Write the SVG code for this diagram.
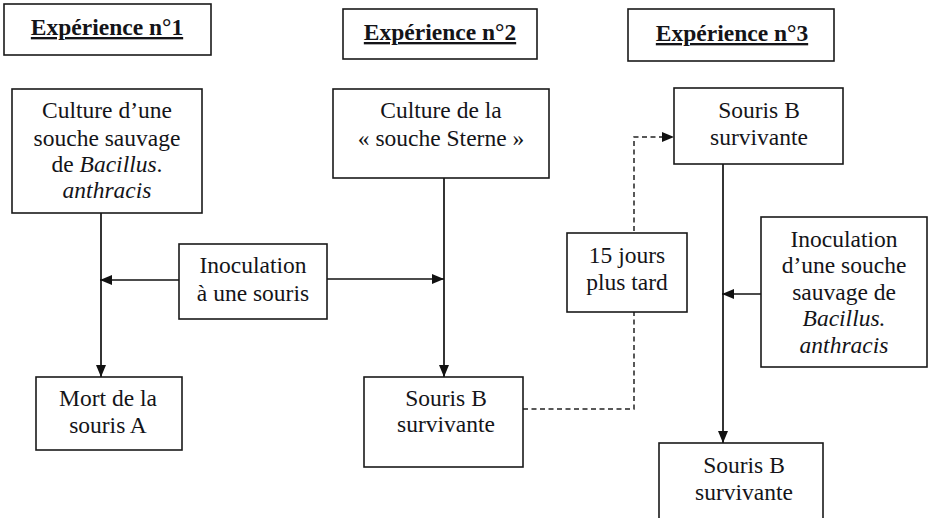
<svg xmlns="http://www.w3.org/2000/svg" width="929" height="518" viewBox="0 0 929 518">
  <style>
    .box { fill: #fff; stroke: #1a1a1a; stroke-width: 1.6; }
    .t { font-family: "Liberation Serif", "Times New Roman", serif; font-size: 23.5px; fill: #141418; text-anchor: middle; }
    .h { font-weight: bold; text-decoration: underline; }
    .i { font-style: italic; }
    .link { fill: none; stroke: #111; stroke-width: 1.7; }
    .dash { fill: none; stroke: #222; stroke-width: 1.5; stroke-dasharray: 5 3.5; }
  </style>
  <defs>
    <marker id="arrow" viewBox="0 0 12 10" refX="12" refY="5" markerWidth="12" markerHeight="10" markerUnits="userSpaceOnUse" orient="auto">
      <path d="M0,0 L12,5 L0,10 z" fill="#111"/>
    </marker>
  </defs>
  <rect width="929" height="518" fill="#fff"/>

  <!-- connectors -->
  <g id="connectors">
    <line class="link" x1="101" y1="213" x2="101" y2="377" marker-end="url(#arrow)"/>
    <line class="link" x1="179" y1="280" x2="100" y2="280" marker-end="url(#arrow)"/>
    <line class="link" x1="444" y1="178" x2="444" y2="377" marker-end="url(#arrow)"/>
    <line class="link" x1="327" y1="279" x2="444" y2="279" marker-end="url(#arrow)"/>
    <line class="link" x1="723" y1="164" x2="723" y2="443" marker-end="url(#arrow)"/>
    <line class="link" x1="761" y1="294" x2="722" y2="294" marker-end="url(#arrow)"/>
    <!-- dashed link: souris B (exp 2) to souris B (exp 3), 15 days later -->
    <path class="dash" d="M523,409 H634 V137 H662"/>
    <line x1="662" y1="137" x2="674" y2="137" stroke="none" marker-end="url(#arrow)"/>
  </g>

  <!-- headers -->
  <g id="exp1">
    <rect class="box" x="4" y="4" width="207" height="51"/>
    <text class="t h" x="107" y="35">Expérience n°1</text>
  </g>
  <g id="exp2">
    <rect class="box" x="343" y="9" width="194" height="50"/>
    <text class="t h" x="440" y="40">Expérience n°2</text>
  </g>
  <g id="exp3">
    <rect class="box" x="628" y="9" width="206" height="52"/>
    <text class="t h" x="732" y="41">Expérience n°3</text>
  </g>

  <!-- experiment 1 -->
  <g id="culture1">
    <rect class="box" x="12" y="89" width="190" height="124"/>
    <text class="t" x="107" y="118">Culture d’une</text>
    <text class="t" x="107" y="146">souche sauvage</text>
    <text class="t" x="107" y="172">de <tspan class="i">Bacillus</tspan>.</text>
    <text class="t i" x="107" y="198">anthracis</text>
  </g>
  <g id="inoculation1">
    <rect class="box" x="179" y="244" width="148" height="75"/>
    <text class="t" x="253" y="273">Inoculation</text>
    <text class="t" x="253" y="301">à une souris</text>
  </g>
  <g id="mort">
    <rect class="box" x="36" y="377" width="146" height="73"/>
    <text class="t" x="108" y="406">Mort de la</text>
    <text class="t" x="108" y="433">souris A</text>
  </g>

  <!-- experiment 2 -->
  <g id="culture2">
    <rect class="box" x="333" y="89" width="216" height="89"/>
    <text class="t" x="441" y="118">Culture de la</text>
    <text class="t" x="441" y="146">« souche Sterne »</text>
  </g>
  <g id="sourisB2">
    <rect class="box" x="364" y="377" width="159" height="90"/>
    <text class="t" x="446" y="406">Souris B</text>
    <text class="t" x="446" y="432">survivante</text>
  </g>
  <g id="delai">
    <rect class="box" x="567" y="233" width="120" height="79"/>
    <text class="t" x="627" y="263">15 jours</text>
    <text class="t" x="627" y="290">plus tard</text>
  </g>

  <!-- experiment 3 -->
  <g id="sourisB3">
    <rect class="box" x="674" y="88" width="169" height="76"/>
    <text class="t" x="759" y="118">Souris B</text>
    <text class="t" x="759" y="145">survivante</text>
  </g>
  <g id="inoculation3">
    <rect class="box" x="761" y="217" width="166" height="150"/>
    <text class="t" x="844" y="247">Inoculation</text>
    <text class="t" x="844" y="273">d’une souche</text>
    <text class="t" x="844" y="300">sauvage de</text>
    <text class="t i" x="844" y="326">Bacillus.</text>
    <text class="t i" x="844" y="353">anthracis</text>
  </g>
  <g id="sourisBfinal">
    <rect class="box" x="659" y="443" width="164" height="80"/>
    <text class="t" x="744" y="473">Souris B</text>
    <text class="t" x="744" y="500">survivante</text>
  </g>
</svg>
